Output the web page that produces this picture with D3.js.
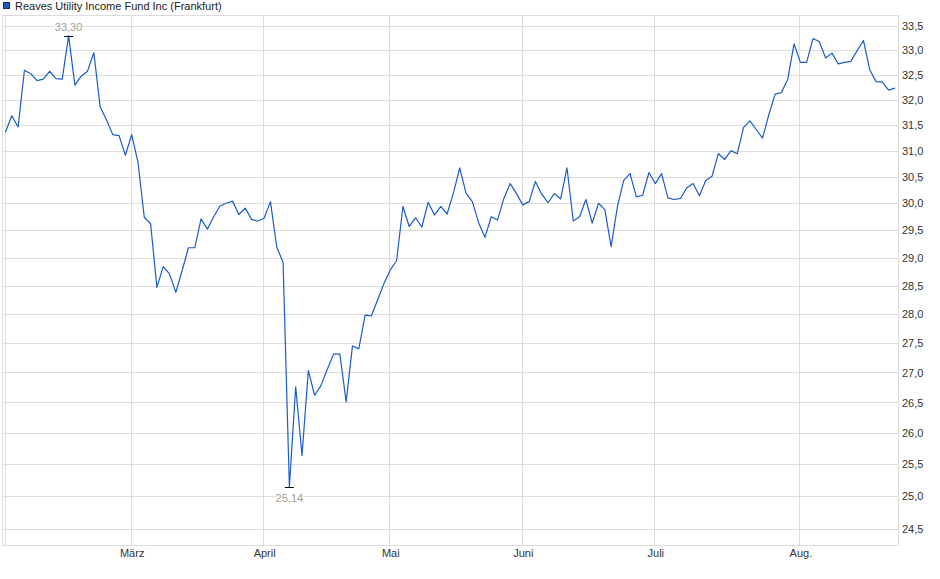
<!DOCTYPE html>
<html>
<head>
<meta charset="utf-8">
<script src="https://cdn.jsdelivr.net/npm/d3@7"></script>
<style>
  body { margin: 0; background: #fff; }
  text { font-family: "Liberation Sans", Arial, sans-serif; }
</style>
</head>
<body>
<div id="wrapper"></div>
<script>
const seriesName = 'Reaves Utility Income Fund Inc (Frankfurt)'

// one close per Frankfurt trading day, 3 Feb to 22 Aug
const closes = [
  31.36, 31.68, 31.46, 32.59, 32.52, 32.38, 32.41, 32.57, 32.42, 32.41,
  33.30, 32.29, 32.47, 32.57, 32.95, 31.86, 31.60, 31.31, 31.29, 30.91,
  31.31, 30.78, 29.74, 29.62, 28.47, 28.84, 28.71, 28.38, 28.77, 29.18,
  29.18, 29.71, 29.52, 29.75, 29.95, 30.00, 30.04, 29.79, 29.91, 29.70,
  29.67, 29.72, 30.03, 29.19, 28.92, 25.14, 26.76, 25.64, 27.03, 26.62,
  26.78, 27.05, 27.31, 27.31, 26.51, 27.45, 27.40, 27.98, 27.97, 28.25,
  28.54, 28.78, 28.95, 29.94, 29.57, 29.73, 29.56, 30.02, 29.78, 29.94,
  29.80, 30.19, 30.67, 30.19, 30.03, 29.64, 29.37, 29.75, 29.69, 30.09,
  30.37, 30.18, 29.97, 30.03, 30.41, 30.17, 30.01, 30.18, 30.08, 30.67,
  29.67, 29.75, 30.07, 29.63, 30.00, 29.88, 29.20, 29.94, 30.43, 30.56,
  30.12, 30.15, 30.58, 30.37, 30.56, 30.10, 30.07, 30.09, 30.29, 30.37,
  30.14, 30.43, 30.51, 30.94, 30.83, 31.00, 30.94, 31.45, 31.58, 31.41,
  31.24, 31.70, 32.11, 32.14, 32.41, 33.13, 32.75, 32.75, 33.24, 33.18,
  32.84, 32.94, 32.72, 32.75, 32.77, 32.99, 33.20, 32.60, 32.36, 32.35,
  32.19, 32.23,
]

const monthLabels = ['März', 'April', 'Mai', 'Juni', 'Juli', 'Aug.']
const monthStartIndex = [20, 41, 61, 82, 103, 126]
const yTicks = [24.5, 25, 25.5, 26, 26.5, 27, 27.5, 28, 28.5, 29, 29.5,
  30, 30.5, 31, 31.5, 32, 32.5, 33, 33.5]

const dimensions = {
  width: 940,
  height: 579,
  plot: { left: 3, right: 898, top: 16, bottom: 545 },
}

const svg = d3.select('#wrapper')
  .append('svg')
  .attr('width', dimensions.width)
  .attr('height', dimensions.height)

const xScale = d3.scaleLinear()
  .domain([0, closes.length - 1])
  .range([5.5, 895])

const yScale = d3.scaleLog()
  .domain([24.25, 33.71])
  .range([dimensions.plot.bottom, dimensions.plot.top])

const fmt = d => d3.format('.1f')(d).replace('.', ',')
const gridColor = '#dcdcdc'

// grid
const grid = svg.append('g')
grid.selectAll('.hgrid')
  .data(yTicks)
  .enter().append('line')
  .attr('x1', dimensions.plot.left)
  .attr('x2', dimensions.plot.right)
  .attr('y1', d => Math.round(yScale(d)) + 0.5)
  .attr('y2', d => Math.round(yScale(d)) + 0.5)
  .attr('stroke', gridColor)

grid.selectAll('.vgrid')
  .data([0, ...monthStartIndex])
  .enter().append('line')
  .attr('x1', d => Math.round(xScale(d)) - 0.5)
  .attr('x2', d => Math.round(xScale(d)) - 0.5)
  .attr('y1', dimensions.plot.top)
  .attr('y2', dimensions.plot.bottom)
  .attr('stroke', gridColor)

svg.append('rect')
  .attr('x', dimensions.plot.left - 0.5)
  .attr('y', dimensions.plot.top - 0.5)
  .attr('width', dimensions.plot.right - dimensions.plot.left + 1)
  .attr('height', dimensions.plot.bottom - dimensions.plot.top + 1)
  .attr('fill', 'none')
  .attr('stroke', gridColor)

// axes
const yAxis = svg.append('g')
  .attr('transform', `translate(${dimensions.plot.right}, 0)`)
  .call(d3.axisRight(yScale).tickValues(yTicks).tickFormat(fmt)
    .tickSize(0).tickPadding(4))
yAxis.select('.domain').remove()
yAxis.selectAll('text')
  .attr('font-size', 11)
  .attr('font-family', '"Liberation Sans", Arial, sans-serif')
  .attr('fill', '#333')

const xAxis = svg.append('g')
  .attr('transform', `translate(0, ${dimensions.plot.bottom})`)
  .call(d3.axisBottom(xScale).tickValues(monthStartIndex)
    .tickFormat((d, i) => monthLabels[i]).tickSize(0).tickPadding(4))
xAxis.select('.domain').remove()
xAxis.selectAll('text')
  .attr('font-size', 11)
  .attr('font-family', '"Liberation Sans", Arial, sans-serif')
  .attr('fill', '#333')

// price line
const line = d3.line()
  .x((d, i) => xScale(i))
  .y(d => yScale(d))

svg.append('path')
  .datum(closes)
  .attr('d', line)
  .attr('fill', 'none')
  .attr('stroke', '#1b5cc8')
  .attr('stroke-width', 1.2)
  .attr('stroke-linejoin', 'round')

// high / low markers
const maxI = d3.maxIndex(closes)
const minI = d3.minIndex(closes)
const markers = [
  { i: maxI, v: closes[maxI], dy: -4.5 },
  { i: minI, v: closes[minI], dy: 14.5 },
]

const marks = svg.selectAll('.extreme')
  .data(markers)
  .enter().append('g')

marks.append('rect')
  .attr('x', d => xScale(d.i) - 14)
  .attr('y', d => yScale(d.v) + d.dy - 8.5)
  .attr('width', 28)
  .attr('height', 10)
  .attr('fill', '#fff')
  .attr('opacity', 0.85)

marks.append('line')
  .attr('x1', d => xScale(d.i) - 4.5)
  .attr('x2', d => xScale(d.i) + 4.5)
  .attr('y1', d => Math.round(yScale(d.v)) + 0.5)
  .attr('y2', d => Math.round(yScale(d.v)) + 0.5)
  .attr('stroke', '#000')

marks.append('text')
  .attr('x', d => xScale(d.i))
  .attr('y', d => yScale(d.v) + d.dy)
  .attr('text-anchor', 'middle')
  .attr('font-size', 11)
  .attr('fill', '#a29d98')
  .text(d => d3.format('.2f')(d.v).replace('.', ','))

// legend
const legend = svg.append('g')
legend.append('rect')
  .attr('x', 3.5)
  .attr('y', 2.5)
  .attr('width', 6)
  .attr('height', 6)
  .attr('fill', '#1f58c0')
  .attr('stroke', '#0d2f70')
legend.append('text')
  .attr('x', 15)
  .attr('y', 9.5)
  .attr('font-size', 11)
  .attr('fill', '#222')
  .text(seriesName)
</script>
</body>
</html>
